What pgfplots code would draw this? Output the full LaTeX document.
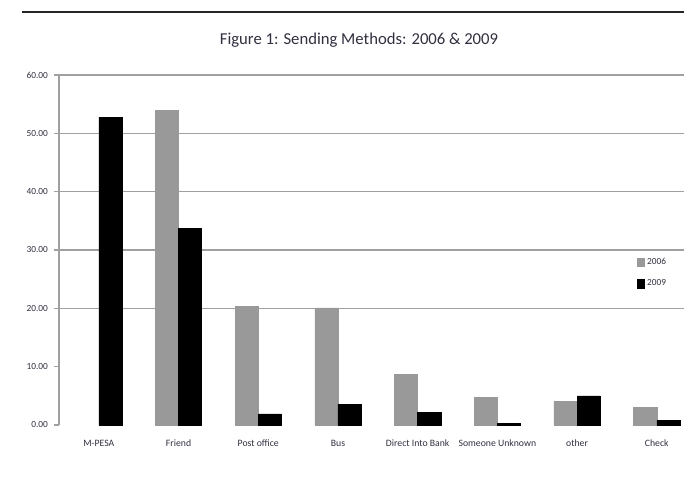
\documentclass[border=0pt]{standalone}
\usepackage{pgfplots}
\pgfplotsset{compat=1.18}
\usepackage{fontspec}
\setmainfont{Carlito}
\definecolor{bargray}{HTML}{999999}
\definecolor{axgray}{HTML}{A0A0A0}
\definecolor{txt}{HTML}{303040}
\begin{document}
\begin{tikzpicture}
\useasboundingbox (0,0) rectangle (513pt,370.5pt);
\draw[line width=2pt, black!85] (16.5pt,361.5pt) -- (513pt,361.5pt);
\node[font=\fontsize{12.5}{14}\selectfont, text=txt] at (269.25pt,340.5pt) {Figure 1: Sending Methods: 2006 \& 2009};
\begin{axis}[
  at={(44.25pt,51.75pt)}, anchor=south west,
  scale only axis, width=468.75pt, height=262.5pt,
  ybar=0pt, bar width=0.29,
  xmin=-0.5, xmax=7.342, ymin=0, ymax=60,
  axis x line*=bottom, axis y line*=left,
  x axis line style={draw=none},
  y axis line style={axgray, line width=1.3pt, -},
  xtick={0,...,7},
  xticklabels={M-PESA, Friend, Post office, Bus, Direct Into Bank, Someone Unknown, other, Check},
  x tick label style={font=\fontsize{7.3}{8}\selectfont, text=txt, yshift=-4pt},
  major x tick style={draw=none},
  extra x ticks={0.5,1.5,...,6.5},
  extra x tick labels={},
  extra x tick style={tick style={axgray, line width=0.8pt}, major tick length=3pt, tick align=outside},
  ytick={0,10,...,60},
  yticklabels={0.00,10.00,20.00,30.00,40.00,50.00,60.00},
  y tick label style={font=\fontsize{7}{8}\selectfont, text=txt, xshift=-1pt},
  major y tick style={axgray, line width=1pt},
  tick align=outside, major tick length=3.75pt,
  extra y ticks={20,30,40,50,60}, extra y tick labels={},
  extra y tick style={grid=major, major grid style={axgray, line width=1.1pt}, major tick length=0pt},
  legend style={at={(0.925,0.485)}, anchor=north west, draw=none, fill=none,
    font=\fontsize{7}{8}\selectfont, text=txt, row sep=6pt, inner sep=0pt},
  legend cell align=left,
  legend image code/.code={\fill[#1] (0pt,-3.2pt) rectangle (5pt,3.2pt);},
  clip=false,
]
\addplot[fill=bargray, draw=bargray, line width=0.3pt] coordinates {
(1,54.0) (2,20.4) (3,20.1) (4,8.7) (5,4.8) (6,4.1) (7,3.0)};
\addlegendentry{2006}
\addplot[fill=black, draw=black, line width=0.3pt] coordinates {
(0,52.8) (1,33.7) (2,1.9) (3,3.6) (4,2.2) (5,0.3) (6,5.0) (7,0.8)};
\addlegendentry{2009}
\end{axis}
\end{tikzpicture}
\end{document}
